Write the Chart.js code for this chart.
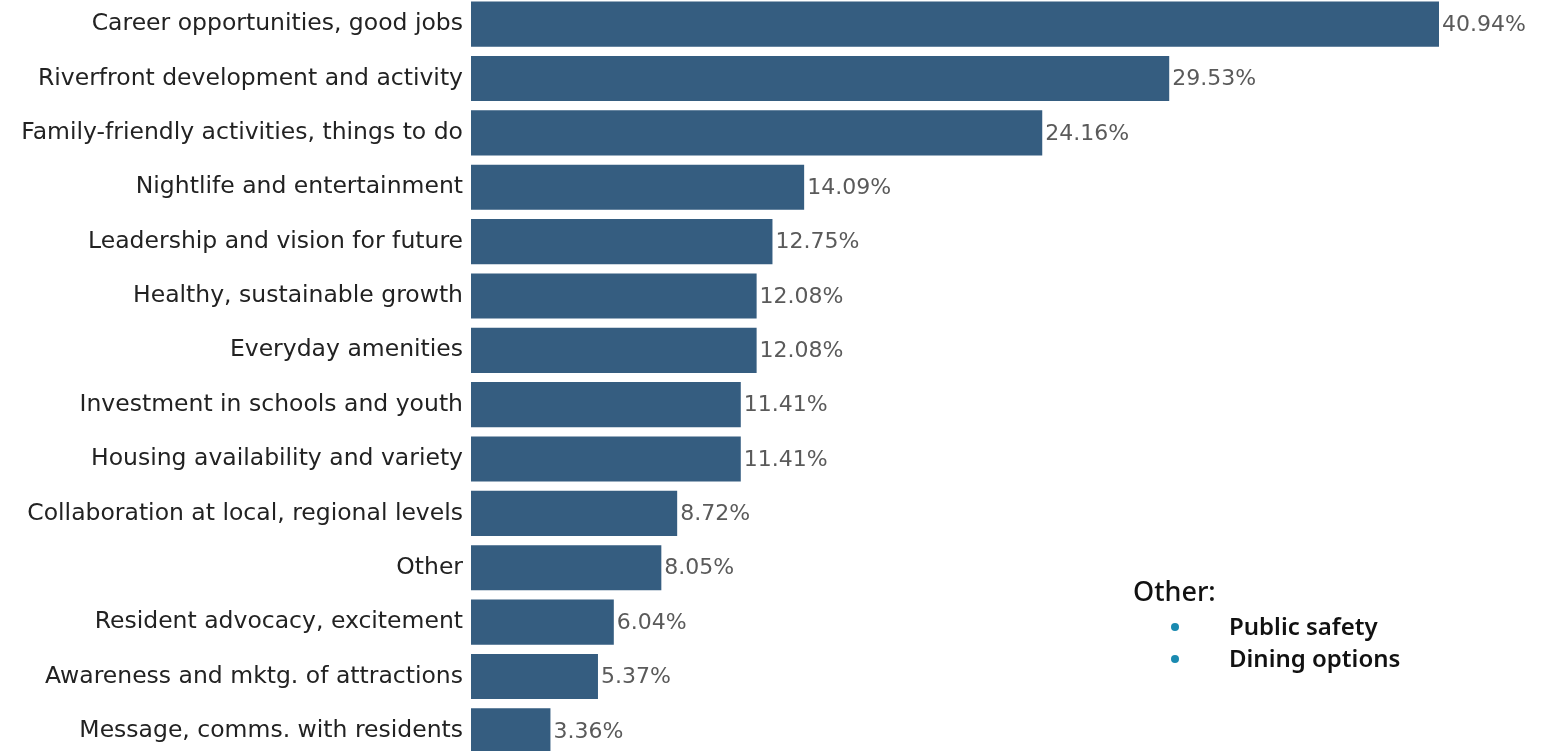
<!DOCTYPE html>
<html>
<head>
<meta charset="utf-8">
<script src="https://cdn.jsdelivr.net/npm/chart.js@4.4.1/dist/chart.umd.min.js"></script>
<style>
  html, body { margin: 0; padding: 0; background: #fff; overflow: hidden; }
  body { width: 1542px; height: 751px; position: relative; }
  #wrap { position: absolute; left: 0; top: -3px; width: 1542px; height: 761px; }
  #note { position: absolute; left: 1133px; top: 572px; font-family: "Noto Sans", sans-serif; color: #111; }
  #note .head { font-size: 27px; font-weight: 500; line-height: 38px; }
  #note ul { margin: 0; padding: 0; list-style: none; }
  #note li { position: relative; padding-left: 96px; font-size: 24px; font-weight: 600; line-height: 32px; }
  #note li::before { content: ""; position: absolute; left: 38px; top: 13px; width: 8px; height: 8px; border-radius: 50%; background: #1a8ab0; }
</style>
</head>
<body>
<div id="wrap"><canvas id="chart"></canvas></div>
<div id="note">
  <div class="head">Other:</div>
  <ul>
    <li>Public safety</li>
    <li>Dining options</li>
  </ul>
</div>
<script>
// Survey responses: share of respondents choosing each priority (%)
const categories = [
  "Career opportunities, good jobs",
  "Riverfront development and activity",
  "Family-friendly activities, things to do",
  "Nightlife and entertainment",
  "Leadership and vision for future",
  "Healthy, sustainable growth",
  "Everyday amenities",
  "Investment in schools and youth",
  "Housing availability and variety",
  "Collaboration at local, regional levels",
  "Other",
  "Resident advocacy, excitement",
  "Awareness and mktg. of attractions",
  "Message, comms. with residents"
];
const shares = [40.94, 29.53, 24.16, 14.09, 12.75, 12.08, 12.08, 11.41, 11.41, 8.72, 8.05, 6.04, 5.37, 3.36];

const LABEL_FONT = "'DejaVu Sans', sans-serif";

// Writes the percentage just past the end of each bar
const valueLabels = {
  id: 'valueLabels',
  afterDatasetsDraw(chart) {
    const ctx = chart.ctx;
    const meta = chart.getDatasetMeta(0);
    ctx.save();
    ctx.font = "22px " + LABEL_FONT;
    ctx.fillStyle = "#5a5a5a";
    ctx.textAlign = "left";
    ctx.textBaseline = "middle";
    meta.data.forEach((bar, i) => {
      ctx.fillText(shares[i].toFixed(2) + "%", bar.x + 3, bar.y + 1);
    });
    ctx.restore();
  }
};

new Chart(document.getElementById('chart'), {
  type: 'bar',
  data: {
    labels: categories,
    datasets: [{
      data: shares,
      backgroundColor: '#355d80',
      borderWidth: 0,
      categoryPercentage: 1,
      barPercentage: 0.83
    }]
  },
  options: {
    indexAxis: 'y',
    responsive: true,
    maintainAspectRatio: false,
    animation: false,
    layout: { padding: { left: 0, right: 7, top: 0, bottom: 0 } },
    plugins: { legend: { display: false }, tooltip: { enabled: false } },
    scales: {
      x: { display: false, min: 0, max: 45 },
      y: {
        grid: { display: false, drawTicks: false },
        border: { display: false },
        ticks: {
          padding: 8,
          color: '#222222',
          font: { family: LABEL_FONT, size: 23.5 }
        },
        afterFit(scale) {
          scale.width = 471;
          scale.paddingTop = 0;
          scale.paddingBottom = 0;
        }
      }
    }
  },
  plugins: [valueLabels]
});
</script>
</body>
</html>
